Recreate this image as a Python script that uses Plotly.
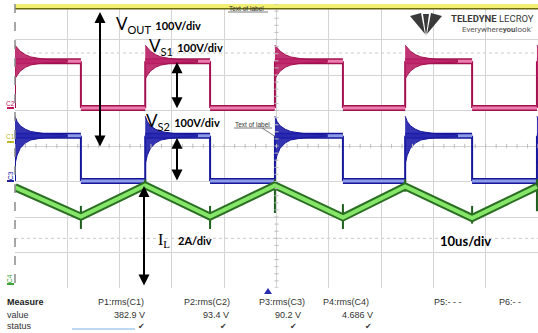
import plotly.graph_objects as go

W, H = 538, 333

# ---- scope screen geometry (pixels) ----
GX0, GX1 = 15, 538          # left / right edge of the graticule
GY_TOP, GY_BOT = 4, 288     # top / bottom edge of the graticule
PX_PER_US = (GX1 - GX0) / 100.0
PX_PER_DIV = (GY_BOT - GY_TOP) / 8.0
GY_MID = (GY_TOP + GY_BOT) / 2.0

# ---- timing of the switching edges (us), 10 us/div ----
rise_t = [0.0, 24.9, 49.7, 74.6, 99.8]
fall_t = [12.6, 37.3, 62.7, 87.4]

# ---- channel settings: units per division and ground offset (div) ----
ch_scale = {"C1": 100.0, "C2": 100.0, "C3": 100.0, "C4": 2.0}
ch_offset = {"C1": 0.113, "C2": 1.070, "C3": -0.986, "C4": -3.887}

# ---- measured levels ----
vout_level = 382.9                 # V
vs1_high, vs1_low = 132.0, 0.0     # V
vs2_high, vs2_low = 127.5, 0.0     # V

# inductor current at the corners of the triangle (A)
il_t = [0.0, 12.6, 24.9, 37.3, 49.7, 62.7, 74.6, 87.4, 99.8]
il_a = [5.45, 3.80, 5.55, 3.80, 5.55, 3.75, 5.50, 3.72, 5.48]

# switching spikes on the current trace (A)
spike_t = [12.6, 24.9, 37.3, 49.7, 62.7, 74.6, 87.4, 99.8]
spike_lo = [3.10, 5.20, 3.10, 4.00, 3.10, 5.20, 3.40, 4.10]
spike_hi = [4.40, 5.90, 4.40, 5.90, 4.50, 5.90, 4.40, 5.90]

# ringing envelope after each rising edge (us after edge, V above / below level)
ring_t = [0.0, 0.4, 1.0, 2.0, 3.0, 4.5, 6.0, 8.0, 10.0]
vs1_ring_up = [45, 38, 28, 18, 12, 8, 5, 3.5, 3]
vs1_ring_dn = [50, 40, 28, 17, 11, 7, 5, 3.5, 3]
vs2_ring_up = [55, 40, 28, 18, 12, 8, 5, 3.5, 3]
vs2_ring_dn = [80, 55, 35, 20, 12, 8, 5, 3.5, 3]

# measurement table
meas_names = ["P1:rms(C1)", "P2:rms(C2)", "P3:rms(C3)", "P4:rms(C4)", "P5:- - -", "P6:- -"]
meas_values = ["382.9 V", "93.4 V", "90.2 V", "4.686 V", "", ""]
meas_status = ["\u2714", "\u2714", "\u2714", "\u2714", "", ""]


def to_div(ch, v):
    return ch_offset[ch] + v / ch_scale[ch]


def px(x):
    return x / W


def py(y):
    return 1 - y / H


def pt_div(y):
    return (GY_MID - y) / PX_PER_DIV


def pt_us(x):
    return (x - GX0) / PX_PER_US


fig = go.Figure()


def band(xs, ys, dark, light, w_out, w_in, name):
    fig.add_trace(go.Scatter(x=xs, y=ys, mode="lines", line=dict(color=dark, width=w_out),
                             hoverinfo="skip", showlegend=False, name=name))
    fig.add_trace(go.Scatter(x=xs, y=ys, mode="lines", line=dict(color=light, width=w_in),
                             hoverinfo="skip", showlegend=False, name=name))


def square_wave(ch, high, low, dark, light, up, dn, ring_fill):
    edges = sorted([(t, "r") for t in rise_t] + [(t, "f") for t in fall_t])
    hx, hy, vx, vy = [], [], [], []
    for i, (t, kind) in enumerate(edges):
        t_next = edges[i + 1][0] if i + 1 < len(edges) else 100.0
        lvl = high if kind == "r" else low
        hx += [t, t_next, None]
        hy += [to_div(ch, lvl), to_div(ch, lvl), None]
        vx += [t, t, None]
        vy += [to_div(ch, high), to_div(ch, low), None]
    fig.add_trace(go.Scatter(x=vx, y=vy, mode="lines", line=dict(color=dark, width=2),
                             hoverinfo="skip", showlegend=False))
    band(hx, hy, dark, light, 6, 3, ch)
    # ringing envelope after every rising edge
    for t0 in rise_t:
        xs = [t0 + t for t in ring_t] + [t0 + t for t in reversed(ring_t)]
        ys = [to_div(ch, high + a) for a in up] + [to_div(ch, high - a) for a in reversed(dn)]
        fig.add_trace(go.Scatter(x=xs, y=ys, mode="lines", fill="toself", fillcolor=ring_fill,
                                 line=dict(color=dark, width=1), hoverinfo="skip",
                                 showlegend=False))


# Vout (C1)
band([0, 100], [to_div("C1", vout_level)] * 2, "#6b6a10", "#f3ef72", 7, 4, "C1")

# switch-node voltages (C2, C3)
square_wave("C2", vs1_high, vs1_low, "#a3104f", "#ec7fb0", vs1_ring_up, vs1_ring_dn,
            "rgba(185,30,100,0.9)")
square_wave("C3", vs2_high, vs2_low, "#16169a", "#8d9ce6", vs2_ring_up, vs2_ring_dn,
            "rgba(30,30,170,0.9)")

# inductor current (C4)
sx, sy = [], []
for t, lo, hi in zip(spike_t, spike_lo, spike_hi):
    sx += [t, t, None]
    sy += [to_div("C4", lo), to_div("C4", hi), None]
fig.add_trace(go.Scatter(x=sx, y=sy, mode="lines", line=dict(color="#1d5e1d", width=2),
                         hoverinfo="skip", showlegend=False))
band(il_t, [to_div("C4", a) for a in il_a], "#2a6f22", "#86e66a", 8, 4, "C4")

# ---- graticule decorations ----
shapes = []
grid_col = "#d4d4d4"
for k in range(51):
    t = k * 2.0
    shapes.append(dict(type="line", xref="x", yref="y", x0=t, x1=t, y0=-0.06, y1=0.06,
                       line=dict(color="#bdbdbd", width=1)))
for k in range(-20, 21):
    d = k * 0.2
    shapes.append(dict(type="line", xref="x", yref="y", x0=49.6, x1=50.4, y0=d, y1=d,
                       line=dict(color="#bdbdbd", width=1)))
for d in (2.62, -2.6):
    shapes.append(dict(type="line", xref="x", yref="y", x0=0, x1=100, y0=d, y1=d,
                       line=dict(color="#c8c8c8", width=1, dash="dot"), layer="below"))
# dashed left edge
shapes.append(dict(type="line", xref="paper", yref="paper", x0=px(GX0), x1=px(GX0),
                   y0=py(GY_TOP), y1=py(GY_BOT), line=dict(color="#8a8a8a", width=1.5, dash="dash")))

# ground markers at the left edge
gnd = [("C2", "#c0185e"), ("C1", "#b7b52a"), ("C3", "#2222a0"), ("C4", "#3aa53a")]
for ch, col in gnd:
    y = GY_MID - ch_offset[ch] * PX_PER_DIV
    shapes.append(dict(type="line", xref="paper", yref="paper", x0=px(7), x1=px(14),
                       y0=py(y), y1=py(y), line=dict(color=col, width=2)))

# leader lines of the "Text of label" tags
shapes.append(dict(type="line", xref="paper", yref="paper", x0=px(228), x1=px(268),
                   y0=py(12), y1=py(12), line=dict(color="#555", width=0.8)))
shapes.append(dict(type="line", xref="paper", yref="paper", x0=px(234), x1=px(272),
                   y0=py(128), y1=py(128), line=dict(color="#555", width=0.8)))
shapes.append(dict(type="line", xref="paper", yref="paper", x0=px(262), x1=px(276),
                   y0=py(128), y1=py(137), line=dict(color="#555", width=0.8)))

# trigger marker
shapes.append(dict(type="path", xref="paper", yref="paper",
                   path=f"M {px(264)} {py(294)} L {px(272)} {py(294)} L {px(268)} {py(288)} Z",
                   fillcolor="#2b2bb0", line=dict(width=0)))


# logo glyph: three blades meeting at the bottom
def logo_path(pts):
    return "M " + " L ".join(f"{px(a)} {py(b)}" for a, b in pts) + " Z"


for pts in ([(410, 16), (421, 13), (425, 34)],
            [(431, 13), (442, 16), (427, 34)],
            [(423, 14), (429, 14), (426, 36)]):
    shapes.append(dict(type="path", xref="paper", yref="paper", path=logo_path(pts),
                       fillcolor="#3a3a3a", line=dict(width=0)))

# light bar under the status row
shapes.append(dict(type="line", xref="paper", yref="paper", x0=px(72), x1=px(135),
                   y0=py(329), y1=py(329), line=dict(color="#a9cdef", width=1.5)))

# ---- annotations ----
ann = []


def text(x, y, s, size, color="#000", anchor="left", family="Lato", angle=0):
    ann.append(dict(xref="paper", yref="paper", x=px(x), y=py(y), text=s, showarrow=False,
                    xanchor=anchor, yanchor="middle", textangle=angle,
                    font=dict(size=size, color=color, family=family)))


def arrow(x, y0, y1):
    ann.append(dict(xref="x", yref="y", axref="x", ayref="y", x=x, y=y0, ax=x, ay=y1,
                    text="", showarrow=True, arrowside="end+start", arrowhead=2,
                    startarrowhead=2, arrowsize=1.1, startarrowsize=1.1, arrowwidth=2,
                    arrowcolor="#000"))


arrow(pt_us(100), pt_div(12), pt_div(148))
arrow(pt_us(177), to_div("C2", vs1_high) - 0.03, to_div("C2", vs1_low) - 0.05)
arrow(pt_us(177), to_div("C3", vs2_high) - 0.06, to_div("C3", vs2_low) - 0.03)
arrow(pt_us(144), pt_div(186), pt_div(287))

big = "<span style='font-size:11px;font-family:Lato'><b>%s</b></span>"
sub = "<sub><span style='font-size:11px'>%s</span></sub>"
text(114, 25, "V" + sub % "OUT" + " " + big % "100V/div", 17)
text(147, 46, "V" + sub % "S1" + " " + big % "100V/div", 17)
text(144, 122, "V" + sub % "S2" + " " + big % "100V/div", 17)
text(156, 240, "I" + sub % "L" + "  " + big % "2A/div", 16, family="Liberation Serif")
text(438, 241, "<b>10us/div</b>", 13)

text(227, 8, "Text of label", 6.5, color="#333", family="Liberation Sans")
text(233, 124, "Text of label", 6.5, color="#333", family="Liberation Sans")

text(536, 18, "<b>TELEDYNE</b> LECROY", 9.5, color="#3a3a3a", anchor="right", family="Roboto")
text(535, 29, "Everywhere<b>you</b>look\u02d9", 8, color="#555", anchor="right", family="Roboto")

for ch, col in gnd:
    y = GY_MID - ch_offset[ch] * PX_PER_DIV - 5
    text(10, y, ch, 6.5, color=col, anchor="center", family="Liberation Sans",
         angle=0 if ch in ("C1", "C2") else -90)

# measurement table
tbl_font = "Liberation Sans"
text(5, 302, "<b>Measure</b>", 9, color="#222", family=tbl_font)
text(5, 315, "value", 9, color="#333", family=tbl_font)
text(5, 326, "status", 9, color="#333", family=tbl_font)
name_right = [146, 232, 307, 371]
name_left = [432, 497]
for i, nm in enumerate(meas_names):
    if i < 4:
        text(name_right[i], 302, nm, 9, color="#333", anchor="right", family=tbl_font)
    else:
        text(name_left[i - 4], 302, nm, 9, color="#333", anchor="left", family=tbl_font)
val_right = [147, 231, 303, 375]
chk_x = [141, 223, 293, 368]
for i in range(4):
    text(val_right[i], 315, meas_values[i], 9, color="#333", anchor="right", family=tbl_font)
    text(chk_x[i], 326, meas_status[i], 8, color="#333", anchor="center", family="DejaVu Sans")

fig.update_layout(
    width=W, height=H, margin=dict(l=0, r=0, t=0, b=0),
    paper_bgcolor="white", plot_bgcolor="white",
    xaxis=dict(domain=[px(GX0), px(GX1)], range=[0, 100], dtick=10, showgrid=True,
               gridcolor=grid_col, gridwidth=1, zeroline=False, showticklabels=False,
               ticks="", showline=False, fixedrange=True),
    yaxis=dict(domain=[py(GY_BOT), py(GY_TOP)], range=[-4, 4], dtick=1, showgrid=True,
               gridcolor=grid_col, gridwidth=1, zeroline=False, showticklabels=False,
               ticks="", showline=False, fixedrange=True),
    shapes=shapes, annotations=ann, showlegend=False,
)

fig.write_html("out.html")
